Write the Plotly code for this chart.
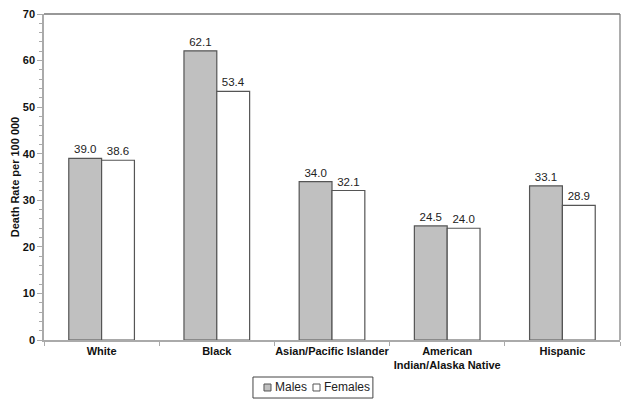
import plotly.graph_objects as go

# data
groups = ["White", "Black", "Asian/Pacific Islander",
          "American<br>Indian/Alaska Native", "Hispanic"]
males = [39.0, 62.1, 34.0, 24.5, 33.1]
females = [38.6, 53.4, 32.1, 24.0, 28.9]
series_names = ["Males", "Females"]
series_fill = ["#c0c0c0", "#ffffff"]

font_family = "Liberation Sans, Arial, sans-serif"
edge = dict(color="#555555", width=1.2)

fig = go.Figure()
for name, vals, fill in zip(series_names, [males, females], series_fill):
    fig.add_trace(go.Bar(
        x=groups, y=vals, name=name,
        marker=dict(color=fill, line=edge),
        text=[f"{v:.1f}" for v in vals], textposition="outside",
        textfont=dict(size=11.5, color="#222222"), cliponaxis=False,
    ))

fig.update_layout(
    width=632, height=407,
    barmode="group", bargap=0.43, bargroupgap=0,
    plot_bgcolor="white", paper_bgcolor="white",
    font=dict(family=font_family, color="#111111"),
    margin=dict(l=44, r=12, t=14, b=67),
    showlegend=False,
    uniformtext=dict(minsize=11, mode="show"),
)

fig.update_xaxes(
    showline=True, linecolor="#aaaaaa", linewidth=1.5,
    ticks="outside", tickson="boundaries", ticklen=4, tickcolor="#aaaaaa",
    tickangle=0, automargin=False,
    tickfont=dict(size=11, family=font_family, weight="bold"),
)
fig.update_yaxes(
    range=[0, 70], dtick=10, showgrid=False, zeroline=False,
    showline=True, linecolor="#aaaaaa", linewidth=1.5,
    ticks="outside", ticklen=5, tickcolor="#aaaaaa", automargin=False,
    minor=dict(dtick=2, ticks="outside", ticklen=3, tickcolor="#aaaaaa"),
    tickfont=dict(size=11, family=font_family, weight="bold"),
    title=dict(text="Death Rate per 100 000",
               font=dict(size=11, family=font_family, weight="bold"),
               standoff=1),
)

# top and right frame lines
fig.add_shape(type="line", xref="paper", yref="paper", x0=0, x1=1, y0=1, y1=1,
              line=dict(color="#333333", width=1.2))
fig.add_shape(type="line", xref="paper", yref="paper", x0=1, x1=1, y0=0, y1=1,
              line=dict(color="#777777", width=1.2))

# compact boxed legend below the axis, Excel style
fig.add_shape(type="rect", xref="paper", yref="paper",
              x0=0.3628, x1=0.571, y0=-0.1135, y1=-0.178,
              line=dict(color="#444444", width=1), fillcolor="white")
for (sx0, tx), name, fill in zip([(0.3819, 0.3976), (0.467, 0.4826)],
                                 series_names, series_fill):
    fig.add_shape(type="rect", xref="paper", yref="paper",
                  x0=sx0, x1=sx0 + 0.0122, y0=-0.135, y1=-0.1564,
                  line=dict(color="#555555", width=1), fillcolor=fill)
    fig.add_annotation(text=name, xref="paper", yref="paper",
                       x=tx, y=-0.1457, xanchor="left", yanchor="middle",
                       showarrow=False, font=dict(size=12, color="#222222"))

fig.write_html("out.html", config={"displayModeBar": False},
               post_script="document.body.style.margin='0';")
